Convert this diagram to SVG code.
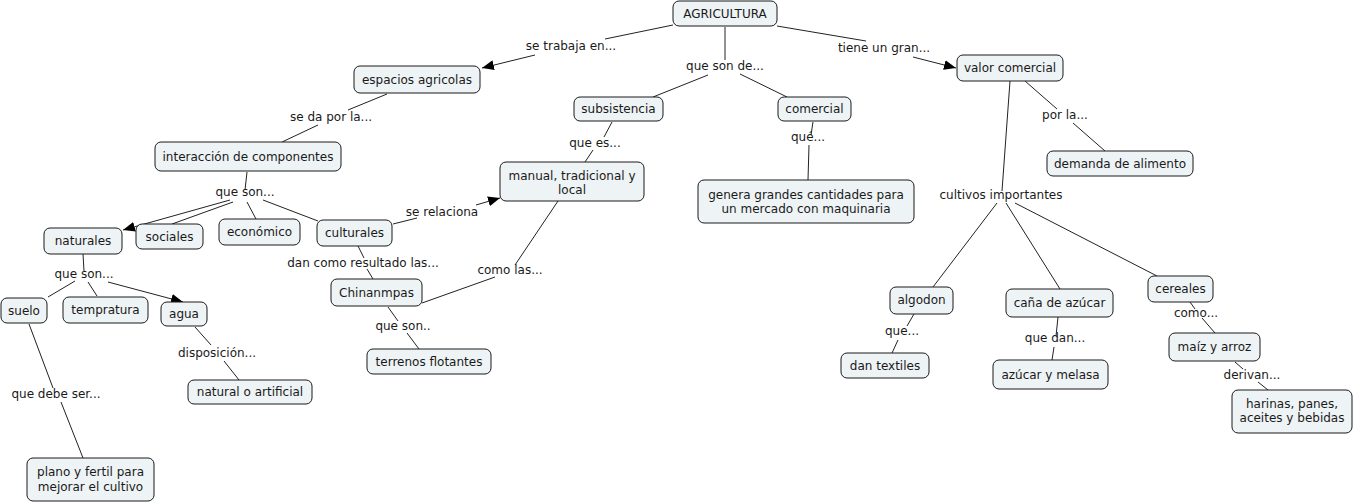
<svg xmlns="http://www.w3.org/2000/svg" width="1355" height="503" viewBox="0 0 1355 503">
<style>
.n rect{fill:#eef3f5;stroke:#1a1a1a;stroke-width:1}
text{font-family:"DejaVu Sans",Verdana,sans-serif;font-size:12px;fill:#1a1a1a;text-anchor:middle}
.c line{stroke:#222;stroke-width:1}
</style>
<defs>
<marker id="a" viewBox="0 0 12 10" refX="12" refY="5" markerWidth="12" markerHeight="10" markerUnits="userSpaceOnUse" orient="auto">
<path d="M0,0 L12,5 L0,10 z" fill="#000"/>
</marker>
</defs>
<rect width="1355" height="503" fill="#fff"/>
<g class="c" id="connectors">
<line x1="673" y1="25" x2="605" y2="39"/>
<line x1="535" y1="55" x2="482" y2="68" marker-end="url(#a)"/>
<line x1="725" y1="27" x2="725" y2="60"/>
<line x1="708" y1="75" x2="653" y2="97"/>
<line x1="740" y1="74" x2="787" y2="97"/>
<line x1="777" y1="26" x2="866" y2="41"/>
<line x1="913" y1="57" x2="956" y2="68" marker-end="url(#a)"/>
<line x1="387" y1="94" x2="348" y2="110"/>
<line x1="318" y1="125" x2="282" y2="142"/>
<line x1="247" y1="172" x2="245" y2="190"/>
<line x1="230" y1="200" x2="123" y2="230" marker-end="url(#a)"/>
<line x1="233" y1="202" x2="172" y2="224"/>
<line x1="247" y1="202" x2="256" y2="219"/>
<line x1="263" y1="200" x2="318" y2="221"/>
<line x1="393" y1="224" x2="417" y2="218"/>
<line x1="476" y1="205" x2="500" y2="198" marker-end="url(#a)"/>
<line x1="612" y1="122" x2="604" y2="137"/>
<line x1="593" y1="150" x2="585" y2="162"/>
<line x1="813" y1="122" x2="811" y2="135"/>
<line x1="809" y1="145" x2="808" y2="180"/>
<line x1="558" y1="201" x2="515" y2="265"/>
<line x1="495" y1="277" x2="422" y2="303"/>
<line x1="358" y1="246" x2="364" y2="258"/>
<line x1="367" y1="269" x2="373" y2="279"/>
<line x1="388" y1="307" x2="398" y2="321"/>
<line x1="407" y1="333" x2="419" y2="349"/>
<line x1="1025" y1="81" x2="1057" y2="109"/>
<line x1="1073" y1="123" x2="1105" y2="151"/>
<line x1="1010" y1="81" x2="1002" y2="191"/>
<line x1="997" y1="203" x2="933" y2="287"/>
<line x1="1006" y1="203" x2="1060" y2="289"/>
<line x1="1015" y1="203" x2="1157" y2="276"/>
<line x1="914" y1="314" x2="907" y2="326"/>
<line x1="898" y1="340" x2="892" y2="353"/>
<line x1="1058" y1="317" x2="1056" y2="336"/>
<line x1="1054" y1="347" x2="1052" y2="360"/>
<line x1="1190" y1="302" x2="1195" y2="309"/>
<line x1="1202" y1="318" x2="1215" y2="333"/>
<line x1="1235" y1="362" x2="1243" y2="369"/>
<line x1="1258" y1="382" x2="1268" y2="390"/>
<line x1="83" y1="254" x2="84" y2="271"/>
<line x1="75" y1="281" x2="48" y2="297"/>
<line x1="88" y1="282" x2="97" y2="296"/>
<line x1="108" y1="282" x2="183" y2="302" marker-end="url(#a)"/>
<line x1="29" y1="324" x2="53" y2="388"/>
<line x1="61" y1="402" x2="83" y2="458"/>
<line x1="195" y1="327" x2="211" y2="345"/>
<line x1="224" y1="361" x2="239" y2="380"/>
</g>
<g id="labels">
<text x="571" y="50">se trabaja en...</text>
<text x="725" y="70">que son de...</text>
<text x="884" y="52">tiene un gran...</text>
<text x="331" y="121">se da por la...</text>
<text x="245" y="196">que son...</text>
<text x="442" y="216">se relaciona</text>
<text x="595" y="147">que es...</text>
<text x="808" y="141">qué...</text>
<text x="1065" y="119">por la...</text>
<text x="1001" y="199">cultivos importantes</text>
<text x="84" y="278">que son...</text>
<text x="363" y="267">dan como resultado las...</text>
<text x="510" y="274">como las...</text>
<text x="403" y="330">que son..</text>
<text x="217" y="357">disposición...</text>
<text x="56" y="398">que debe ser...</text>
<text x="902" y="335">que...</text>
<text x="1055" y="342">que dan...</text>
<text x="1196" y="317">como...</text>
<text x="1252" y="379">derivan...</text>
</g>
<g class="n" id="agricultura"><rect x="673" y="1" width="104" height="25" rx="6"/><text x="725" y="18">AGRICULTURA</text></g>
<g class="n" id="espacios"><rect x="354" y="66" width="126" height="27" rx="6"/><text x="417" y="84">espacios agricolas</text></g>
<g class="n" id="interaccion"><rect x="155" y="142" width="186" height="29" rx="6"/><text x="248" y="161">interacción de componentes</text></g>
<g class="n" id="naturales"><rect x="44" y="228" width="78" height="26" rx="6"/><text x="83" y="245">naturales</text></g>
<g class="n" id="sociales"><rect x="136" y="224" width="67" height="25" rx="6"/><text x="169.5" y="241">sociales</text></g>
<g class="n" id="economico"><rect x="219" y="219" width="81" height="26" rx="6"/><text x="259.5" y="236">económico</text></g>
<g class="n" id="culturales"><rect x="317" y="220" width="75" height="26" rx="6"/><text x="354.5" y="237">culturales</text></g>
<g class="n" id="subsistencia"><rect x="574" y="97" width="89" height="24" rx="6"/><text x="618.5" y="113">subsistencia</text></g>
<g class="n" id="comercial"><rect x="778" y="97" width="73" height="24" rx="6"/><text x="814.5" y="113">comercial</text></g>
<g class="n" id="manual"><rect x="500" y="162" width="144" height="39" rx="6"/><text x="572" y="180">manual, tradicional y</text><text x="572" y="194">local</text></g>
<g class="n" id="genera"><rect x="698" y="180" width="216" height="43" rx="6"/><text x="806" y="199">genera grandes cantidades para</text><text x="806" y="213">un mercado con maquinaria</text></g>
<g class="n" id="valor"><rect x="957" y="55" width="106" height="26" rx="6"/><text x="1010" y="72">valor comercial</text></g>
<g class="n" id="demanda"><rect x="1047" y="151" width="146" height="25" rx="6"/><text x="1120" y="168">demanda de alimento</text></g>
<g class="n" id="suelo"><rect x="1" y="298" width="46" height="25" rx="6"/><text x="24" y="315">suelo</text></g>
<g class="n" id="temperatura"><rect x="63" y="297" width="85" height="26" rx="6"/><text x="105.5" y="314">tempratura</text></g>
<g class="n" id="agua"><rect x="161" y="302" width="46" height="24" rx="6"/><text x="184" y="318">agua</text></g>
<g class="n" id="natural"><rect x="188" y="380" width="124" height="24" rx="6"/><text x="250" y="396">natural o artificial</text></g>
<g class="n" id="plano"><rect x="27" y="458" width="127" height="43" rx="6"/><text x="90.5" y="476">plano y fertil para</text><text x="90.5" y="491">mejorar el cultivo</text></g>
<g class="n" id="chinampas"><rect x="331" y="279" width="91" height="27" rx="6"/><text x="376.5" y="297">Chinanmpas</text></g>
<g class="n" id="terrenos"><rect x="367" y="349" width="124" height="25" rx="6"/><text x="429" y="366">terrenos flotantes</text></g>
<g class="n" id="algodon"><rect x="890" y="287" width="63" height="27" rx="6"/><text x="921.5" y="304">algodon</text></g>
<g class="n" id="textiles"><rect x="841" y="353" width="88" height="25" rx="6"/><text x="885" y="370">dan textiles</text></g>
<g class="n" id="cana"><rect x="1006" y="289" width="107" height="28" rx="6"/><text x="1059.5" y="307">caña de azúcar</text></g>
<g class="n" id="azucar"><rect x="993" y="360" width="115" height="29" rx="6"/><text x="1050.5" y="379">azúcar y melasa</text></g>
<g class="n" id="cereales"><rect x="1148" y="276" width="65" height="26" rx="6"/><text x="1180.5" y="293">cereales</text></g>
<g class="n" id="maiz"><rect x="1169" y="333" width="91" height="28" rx="6"/><text x="1214.5" y="351">maíz y arroz</text></g>
<g class="n" id="harinas"><rect x="1232" y="390" width="120" height="43" rx="6"/><text x="1292" y="408">harinas, panes,</text><text x="1292" y="422">aceites y bebidas</text></g>
</svg>
